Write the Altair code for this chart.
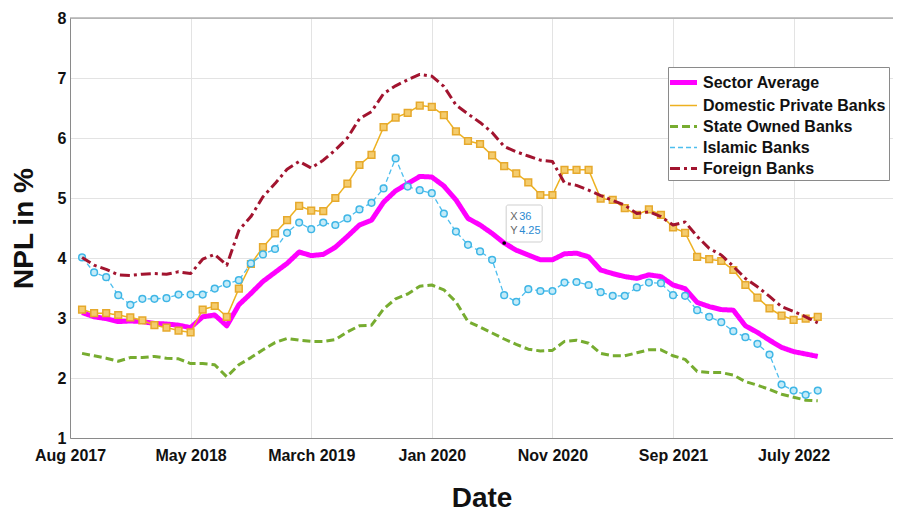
import altair as alt
import pandas as pd

# ---------------- data ----------------
months = list(range(1, 63))

sector_average = [3.09, 3.02, 2.99, 2.94, 2.95, 2.94, 2.91, 2.90, 2.88, 2.84,
                  3.02, 3.05, 2.87, 3.22, 3.41, 3.61, 3.76, 3.91, 4.10, 4.04,
                  4.06, 4.18, 4.36, 4.55, 4.63, 4.93, 5.12, 5.24, 5.36, 5.35,
                  5.20, 4.97, 4.66, 4.55, 4.41, 4.25, 4.13, 4.05, 3.97, 3.97,
                  4.07, 4.08, 4.02, 3.80, 3.74, 3.69, 3.66, 3.72, 3.69, 3.55,
                  3.49, 3.26, 3.19, 3.14, 3.13, 2.87, 2.76, 2.63, 2.51, 2.44,
                  2.40, 2.36]

domestic_private = [3.14, 3.08, 3.08, 3.05, 3.01, 2.96, 2.88, 2.84, 2.79, 2.76,
                    3.14, 3.20, 3.02, 3.49, 3.90, 4.18, 4.41, 4.63, 4.87, 4.79,
                    4.78, 5.00, 5.24, 5.55, 5.72, 6.18, 6.34, 6.42, 6.54, 6.52,
                    6.38, 6.11, 5.95, 5.90, 5.71, 5.53, 5.41, 5.26, 5.05, 5.05,
                    5.47, 5.47, 5.47, 4.99, 4.97, 4.83, 4.72, 4.81, 4.72, 4.51,
                    4.42, 4.02, 3.98, 3.95, 3.80, 3.55, 3.34, 3.16, 3.04, 2.97,
                    2.99, 3.02]

state_owned = [2.41, 2.37, 2.33, 2.28, 2.34, 2.34, 2.36, 2.33, 2.32, 2.24,
               2.24, 2.22, 2.02, 2.22, 2.34, 2.47, 2.59, 2.66, 2.63, 2.61,
               2.61, 2.64, 2.77, 2.87, 2.88, 3.15, 3.32, 3.40, 3.53, 3.55,
               3.47, 3.27, 2.94, 2.85, 2.75, 2.65, 2.56, 2.48, 2.45, 2.46,
               2.61, 2.63, 2.58, 2.41, 2.37, 2.37, 2.42, 2.47, 2.47, 2.37,
               2.31, 2.11, 2.09, 2.09, 2.05, 1.94, 1.88, 1.81, 1.73, 1.68,
               1.63, 1.62]

islamic = [4.01, 3.76, 3.68, 3.38, 3.22, 3.32, 3.32, 3.33, 3.39, 3.39,
           3.39, 3.49, 3.57, 3.63, 3.91, 4.06, 4.15, 4.42, 4.59, 4.48,
           4.59, 4.55, 4.66, 4.81, 4.92, 5.16, 5.66, 5.19, 5.13, 5.08,
           4.74, 4.44, 4.22, 4.11, 3.97, 3.38, 3.27, 3.48, 3.45, 3.45,
           3.59, 3.60, 3.55, 3.43, 3.37, 3.37, 3.51, 3.59, 3.58, 3.38,
           3.37, 3.13, 3.02, 2.93, 2.78, 2.68, 2.57, 2.39, 1.89, 1.79,
           1.72, 1.79]

foreign = [4.01, 3.88, 3.81, 3.72, 3.71, 3.73, 3.74, 3.73, 3.77, 3.74,
           3.98, 4.06, 3.88, 4.46, 4.69, 5.02, 5.24, 5.48, 5.61, 5.50,
           5.63, 5.80, 6.00, 6.32, 6.44, 6.74, 6.87, 6.97, 7.06, 7.03,
           6.86, 6.55, 6.40, 6.26, 6.09, 5.86, 5.77, 5.70, 5.63, 5.61,
           5.25, 5.21, 5.13, 5.04, 4.96, 4.88, 4.74, 4.77, 4.69, 4.55,
           4.60, 4.36, 4.16, 4.05, 3.86, 3.66, 3.52, 3.36, 3.19, 3.11,
           3.02, 2.92]

series_names = ["Sector Average", "Domestic Private Banks", "State Owned Banks",
                "Islamic Banks", "Foreign Banks"]
series_values = [sector_average, domestic_private, state_owned, islamic, foreign]

x_tick_values = [0, 10, 20, 30, 40, 50, 60]
x_tick_labels = ["Aug 2017", "May 2018", "March 2019", "Jan 2020",
                 "Nov 2020", "Sep 2021", "July 2022"]
y_tick_values = [1, 2, 3, 4, 5, 6, 7, 8]

tip_x = [36]
tip_y = [4.25]

# ---------------- styling ----------------
series_colors = ["#FF00FF", "#EDB120", "#77AC30", "#4DBEEE", "#A2142F"]
series_dashes = [[1, 0], [1, 0], [8, 4], [5, 3], [10, 4, 3, 4]]
series_widths = [5, 1.5, 3, 1.3, 3]

FONT = "Liberation Sans, Arial, Helvetica, sans-serif"

W, H = 823, 420
X_MAX = 68.24
Y_MIN, Y_MAX = 1, 8
px_x = W / X_MAX
px_y = H / (Y_MAX - Y_MIN)

rows = []
for name, vals in zip(series_names, series_values):
    for m, v in zip(months, vals):
        rows.append({"idx": m, "npl": v, "series": name})
df = pd.DataFrame(rows)

label_expr = ""
for p, l in zip(x_tick_values, x_tick_labels):
    label_expr += f"datum.value == {p} ? '{l}' : "
label_expr += "''"

x_scale = alt.Scale(domain=[0, X_MAX], nice=False, zero=False)
y_scale = alt.Scale(domain=[Y_MIN, Y_MAX], nice=False, zero=False)

X = alt.X("idx:Q", scale=x_scale,
          axis=alt.Axis(values=x_tick_values, labelExpr=label_expr, title="Date",
                        grid=True, gridColor="#e3e3e3", domainColor="#8a8a8a",
                        ticks=False, labelFont=FONT, labelFontSize=16,
                        labelFontWeight="bold", labelColor="#111", labelPadding=9,
                        labelOverlap=False, labelFlush=False,
                        titleFont=FONT, titleFontSize=28, titleFontWeight="bold",
                        titleColor="#111", titlePadding=21))
Y = alt.Y("npl:Q", scale=y_scale,
          axis=alt.Axis(values=y_tick_values, format="d", title="NPL in %", grid=True,
                        gridColor="#e3e3e3", domainColor="#8a8a8a", ticks=False,
                        labelFont=FONT, labelFontSize=16, labelFontWeight="bold",
                        labelColor="#111", labelPadding=4, labelFlush=False,
                        titleFont=FONT, titleFontSize=28, titleFontWeight="bold",
                        titleColor="#111", titlePadding=19))

legend = alt.Legend(title=None, orient="none", legendX=598, legendY=49,
                    symbolType="M-1.35,0H1.35", symbolSize=400, labelFont=FONT,
                    labelFontSize=16, labelFontWeight="bold", labelColor="#111",
                    labelOffset=7, rowPadding=1.5, padding=3, fillColor="white",
                    strokeColor="#8a8a8a", labelLimit=300)

color = alt.Color("series:N", scale=alt.Scale(domain=series_names, range=series_colors),
                  legend=legend)
dash = alt.StrokeDash("series:N", scale=alt.Scale(domain=series_names, range=series_dashes),
                      legend=legend)
swidth = alt.StrokeWidth("series:N",
                         scale=alt.Scale(type="ordinal", domain=series_names, range=series_widths),
                         legend=legend)

base = alt.Chart(df)

def line_layer(name):
    return base.transform_filter(alt.datum.series == name).mark_line(
        strokeJoin="round", strokeCap="butt").encode(
        x=X, y=Y, color=color, strokeDash=dash, strokeWidth=swidth)

def point_layer(name, shape, fill, stroke):
    return base.transform_filter(alt.datum.series == name).mark_point(
        shape=shape, filled=False, fill=fill, stroke=stroke, strokeWidth=1.5,
        size=45, opacity=1).encode(x=X, y=Y)

top_border = alt.Chart(pd.DataFrame({"v": [Y_MAX]})).mark_rule(
    color="#8a8a8a", strokeWidth=1).encode(y=alt.Y("v:Q", scale=y_scale))

tip_df = pd.DataFrame({"x": tip_x, "y": tip_y})
tip_df["x0"] = tip_df["x"] + 2 / px_x
tip_df["x1"] = tip_df["x"] + 38 / px_x
tip_df["y0"] = tip_df["y"] + 1 / px_y
tip_df["y1"] = tip_df["y"] + 38 / px_y
tip_df["xl"] = "X"
tip_df["yl"] = "Y"
tip_df["xv"] = tip_df["x"].astype(int).astype(str)
tip_df["yv"] = tip_df["y"].map(lambda v: f"{v:.2f}")

tip_base = alt.Chart(tip_df)
tip_box = tip_base.mark_rect(fill="white", fillOpacity=0.92, stroke="#cfcfcf",
                             strokeWidth=1, cornerRadius=2).encode(
    x=alt.X("x0:Q", scale=x_scale), x2="x1:Q",
    y=alt.Y("y0:Q", scale=y_scale), y2="y1:Q")
tip_dot = tip_base.mark_point(filled=True, color="black", size=14, opacity=1).encode(
    x=alt.X("x:Q", scale=x_scale), y=alt.Y("y:Q", scale=y_scale))
txt_style = dict(font=FONT, fontSize=11, align="left", baseline="middle")
tip_xl = tip_base.mark_text(dx=6, dy=-26, color="#666", **txt_style).encode(
    x=alt.X("x:Q", scale=x_scale), y=alt.Y("y:Q", scale=y_scale), text="xl:N")
tip_xv = tip_base.mark_text(dx=15, dy=-26, color="#2b8ad2", **txt_style).encode(
    x=alt.X("x:Q", scale=x_scale), y=alt.Y("y:Q", scale=y_scale), text="xv:N")
tip_yl = tip_base.mark_text(dx=6, dy=-12, color="#666", **txt_style).encode(
    x=alt.X("x:Q", scale=x_scale), y=alt.Y("y:Q", scale=y_scale), text="yl:N")
tip_yv = tip_base.mark_text(dx=15, dy=-12, color="#2b8ad2", **txt_style).encode(
    x=alt.X("x:Q", scale=x_scale), y=alt.Y("y:Q", scale=y_scale), text="yv:N")

chart = alt.layer(
    top_border,
    line_layer("Sector Average"),
    line_layer("Domestic Private Banks"),
    point_layer("Domestic Private Banks", "square", "#f4cc6e", "#e6a92c"),
    line_layer("State Owned Banks"),
    line_layer("Islamic Banks"),
    point_layer("Islamic Banks", "circle", "#c4ebf8", "#3fb6e6"),
    line_layer("Foreign Banks"),
    tip_box, tip_dot, tip_xl, tip_xv, tip_yl, tip_yv,
).properties(
    width=W, height=H,
    autosize=alt.AutoSizeParams(type="none"),
    padding={"left": 62, "top": 10, "right": 0, "bottom": 76},
    background="white",
).configure_view(stroke=None)

chart.save("out.html", embed_options={"renderer": "svg", "actions": False})
